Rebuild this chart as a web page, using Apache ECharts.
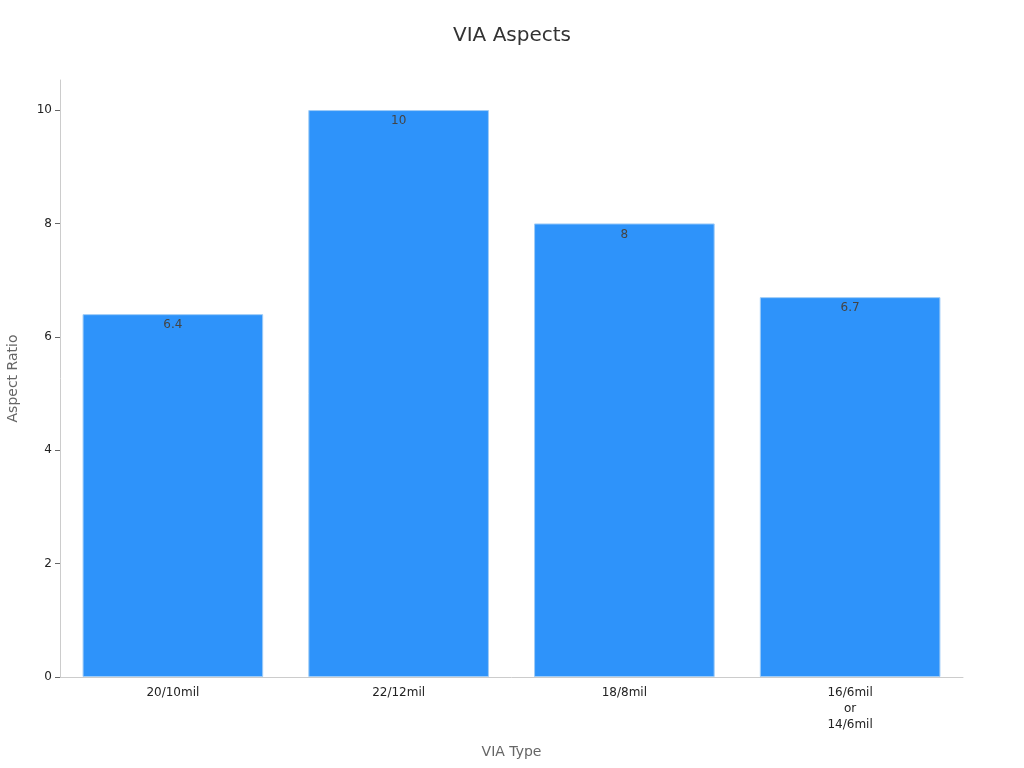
<!DOCTYPE html>
<html><head><meta charset="utf-8">
<script src="https://cdn.jsdelivr.net/npm/echarts@6/dist/echarts.min.js"></script>
<style>html,body{margin:0;padding:0;background:#fff}#c{width:1024px;height:768px}</style>
</head><body><div id="c"></div>
<script>
const categories = ["20/10mil", "22/12mil", "18/8mil", "16/6mil\nor\n14/6mil"];
const aspectRatios = [6.4, 10, 8, 6.7];
const yTicks = [0, 2, 4, 6, 8, 10];

const chart = echarts.init(document.getElementById('c'));
chart.setOption({
  animation: false,
  textStyle: { fontFamily: 'DejaVu Sans' },
  title: { text: 'VIA Aspects', left: 'center', top: 21,
    textStyle: { fontFamily: 'DejaVu Sans', fontSize: 20, fontWeight: 'normal', color: '#333' } },
  grid: { left: 60, right: 61, top: 80, bottom: 91, containLabel: false, outerBoundsMode: 'none' },
  xAxis: {
    type: 'category', data: categories,
    name: 'VIA Type', nameLocation: 'middle', nameGap: 68,
    nameTextStyle: { fontSize: 14, color: '#666' },
    axisLine: { lineStyle: { color: '#ccc' } },
    axisTick: { alignWithLabel: true, lineStyle: { color: '#666' } },
    axisLabel: { color: '#222', fontSize: 12, lineHeight: 16, margin: 8 }
  },
  yAxis: {
    type: 'value', min: 0, max: 10.53,
    name: 'Aspect Ratio', nameLocation: 'middle', nameGap: 40,
    nameTextStyle: { fontSize: 14, color: '#666' },
    axisLine: { show: true, lineStyle: { color: '#ccc' } },
    axisTick: { show: true, lineStyle: { color: '#666' }, customValues: yTicks },
    splitLine: { show: false },
    axisLabel: { color: '#222', fontSize: 12, customValues: yTicks }
  },
  series: [{
    type: 'bar', data: aspectRatios, barWidth: '80%',
    itemStyle: { color: '#2E93FA', borderColor: '#9FCCF7', borderWidth: 1 },
    label: { show: true, position: 'insideTop', color: '#444', fontSize: 12, distance: 5 }
  }]
});
</script></body></html>
